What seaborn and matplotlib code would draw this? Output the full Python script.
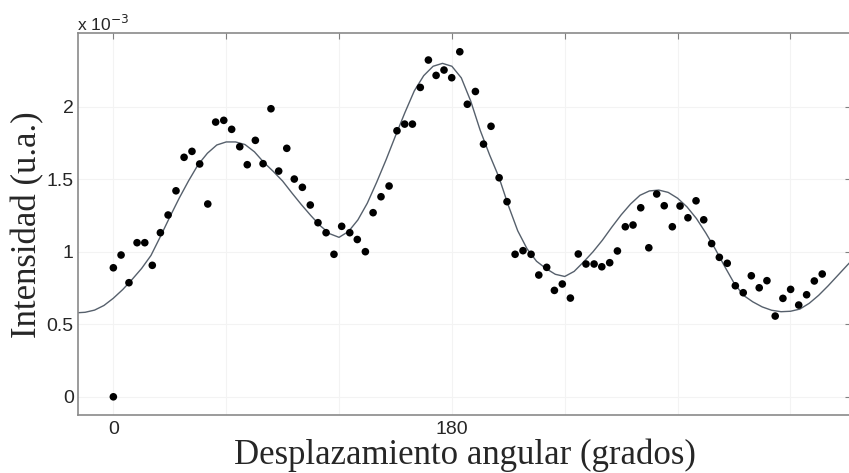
import matplotlib
matplotlib.use("Agg")
import matplotlib.pyplot as plt
import seaborn as sns
import pandas as pd

# ---- data (intensity in units of 1e-3) ----
angle_deg = [0.0, 0.0, 4.1, 8.3, 12.6, 16.7, 20.7, 25.0, 29.1, 33.3, 37.6, 41.8, 45.9, 50.2,
             54.4, 58.7, 62.9, 67.2, 71.2, 75.5, 79.6, 83.8, 87.9, 92.2, 96.2, 100.5, 104.7,
             108.8, 113.1, 117.3, 121.4, 125.7, 129.7, 134.0, 138.1, 142.3, 146.6, 150.8,
             154.9, 159.0, 163.2, 167.5, 171.6, 175.8, 179.9, 184.2, 188.2, 192.5, 196.8,
             200.8, 205.1, 209.3, 213.6, 217.8, 222.1, 226.2, 230.4, 234.5, 238.7, 243.0,
             247.2, 251.3, 255.6, 259.7, 263.9, 268.0, 272.2, 276.3, 280.4, 284.7, 288.9,
             292.9, 297.2, 301.3, 305.5, 309.8, 313.9, 318.1, 322.2, 326.4, 330.7, 334.9,
             339.2, 343.4, 347.5, 351.9, 356.0, 360.1, 364.4, 368.6, 372.7, 376.9]
intensity = [0.890, 0.0, 0.978, 0.787, 1.063, 1.063, 0.907, 1.132, 1.254, 1.421, 1.652, 1.693,
             1.606, 1.330, 1.895, 1.907, 1.845, 1.725, 1.601, 1.769, 1.608, 1.987, 1.557, 1.714,
             1.502, 1.445, 1.323, 1.201, 1.132, 0.983, 1.176, 1.132, 1.085, 1.001, 1.270, 1.380,
             1.454, 1.835, 1.881, 1.881, 2.134, 2.323, 2.217, 2.254, 2.201, 2.380, 2.018, 2.106,
             1.743, 1.866, 1.511, 1.346, 0.983, 1.008, 0.983, 0.840, 0.893, 0.734, 0.778, 0.681,
             0.985, 0.916, 0.916, 0.897, 0.925, 1.006, 1.173, 1.185, 1.304, 1.028, 1.399, 1.318,
             1.173, 1.316, 1.235, 1.352, 1.221, 1.057, 0.962, 0.921, 0.766, 0.718, 0.835, 0.752,
             0.801, 0.557, 0.679, 0.741, 0.633, 0.704, 0.799, 0.847]

# fitted curve
fit_deg = [-18.8, -15, -10, -5, 0, 5, 10, 15, 20, 25, 30, 35, 40, 45, 50, 55, 60, 65, 70,
           75, 80, 85, 90, 95, 100, 105, 110, 115, 120, 125, 130, 135, 140, 145, 150, 155,
           160, 165, 170, 175, 180, 185, 190, 195, 200, 205, 210, 215, 220, 225, 230, 235,
           240, 245, 250, 255, 260, 265, 270, 275, 280, 285, 290, 295, 300, 305, 310, 315,
           320, 325, 330, 335, 340, 345, 350, 355, 360, 365, 370, 375, 380, 385, 390, 392.2]
fit_val = [0.580, 0.583, 0.598, 0.630, 0.680, 0.740, 0.810, 0.885, 0.975, 1.105, 1.240,
           1.370, 1.490, 1.600, 1.680, 1.737, 1.758, 1.758, 1.740, 1.690, 1.617, 1.555,
           1.488, 1.405, 1.325, 1.250, 1.180, 1.125, 1.100, 1.140, 1.220, 1.335, 1.480,
           1.635, 1.800, 1.960, 2.110, 2.215, 2.280, 2.300, 2.280, 2.200, 2.040, 1.840,
           1.670, 1.515, 1.320, 1.145, 1.020, 0.935, 0.885, 0.845, 0.830, 0.865, 0.930,
           1.000, 1.080, 1.170, 1.255, 1.330, 1.390, 1.420, 1.426, 1.410, 1.370, 1.310,
           1.230, 1.130, 1.020, 0.900, 0.785, 0.700, 0.655, 0.620, 0.597, 0.587, 0.590,
           0.605, 0.645, 0.700, 0.765, 0.835, 0.905, 0.935]

x_ticks = [0, 60, 120, 180, 240, 300, 360]
x_ticklabels = ["0", "", "", "180", "", "", ""]
y_ticks = [0, 0.5, 1, 1.5, 2]
y_ticklabels = ["0", "0.5", "1", "1.5", "2"]

pts = pd.DataFrame({"angle": angle_deg, "I": intensity})
fit = pd.DataFrame({"angle": fit_deg, "I": fit_val})

sns.set_style("white")
plt.rcParams["font.family"] = ["Liberation Sans", "DejaVu Sans"]

fig = plt.figure(figsize=(8.49, 4.73), dpi=100)
ax = fig.add_axes([78 / 849, 1 - 415 / 473, (851 - 78) / 849, (415 - 33.5) / 473])

sns.lineplot(data=fit, x="angle", y="I", ax=ax, color="#56606c", linewidth=1.0,
             sort=False, estimator=None, zorder=2)
sns.scatterplot(data=pts, x="angle", y="I", ax=ax, color="black", s=30,
                edgecolor="none", zorder=3)

ax.set_xlim(-18.8, 392.2)
ax.set_ylim(-0.1255, 2.506)
ax.set_xticks(x_ticks)
ax.set_xticklabels(x_ticklabels)
ax.set_yticks(y_ticks)
ax.set_yticklabels(y_ticklabels)
ax.grid(True, color="#f3f3f3", linewidth=0.8)
ax.tick_params(direction="in", length=4, width=0.8, color="#808080",
               top=True, right=True, labelsize=14)
ax.tick_params(axis="y", pad=3)
ax.tick_params(axis="x", pad=4)
for s in ax.spines.values():
    s.set_color("#8a8a8a")
    s.set_linewidth(1.2)
    s.set_visible(True)

ax.set_xlabel("Desplazamiento angular (grados)", family="Liberation Serif",
              fontsize=25, labelpad=1)
ax.set_ylabel("Intensidad (u.a.)", family="Liberation Serif", fontsize=25, labelpad=2)

fig.text(77 / 849, 1 - 31 / 473, r"x 10$^{-3}$", fontsize=12.5,
         family="Liberation Sans", ha="left", va="baseline")

fig.savefig("out.png", dpi=100)
